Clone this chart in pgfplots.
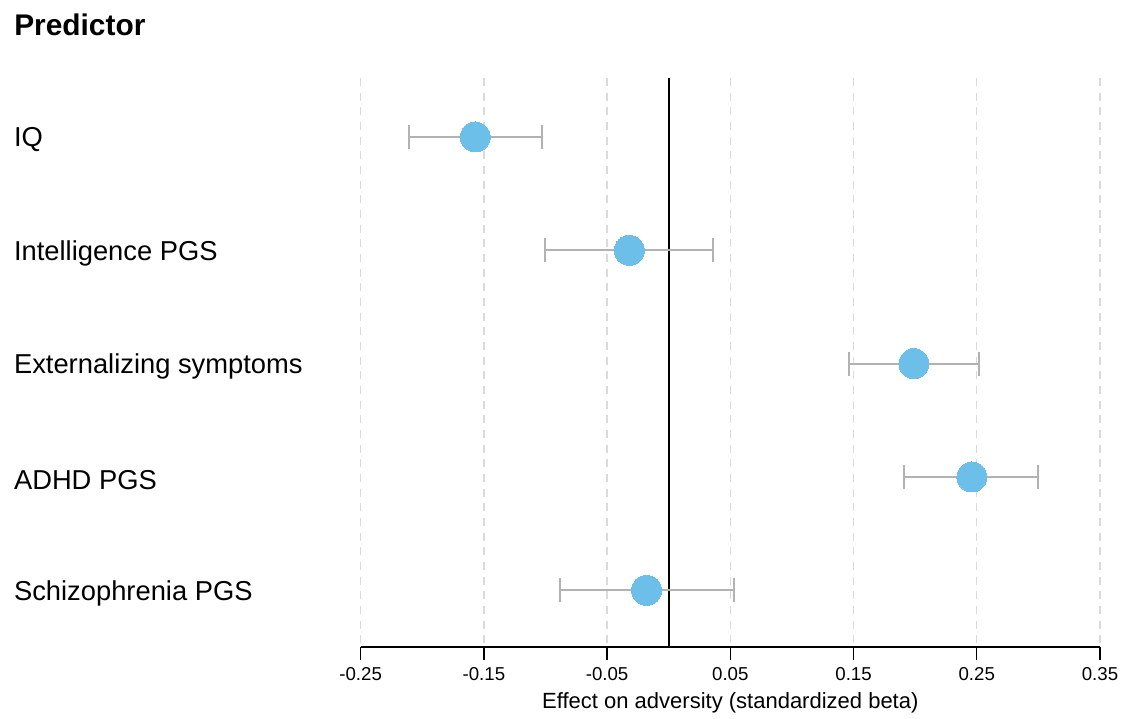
\documentclass[border=0pt]{standalone}
\usepackage{pgfplots}
\pgfplotsset{compat=1.18}
\usepackage{pgfplotstable}
\usepackage{fontspec}
\setmainfont{Liberation Sans}

\definecolor{pointblue}{RGB}{108,191,232}
\definecolor{bargray}{RGB}{178,178,178}
\definecolor{gridgray}{RGB}{218,218,218}

% Standardized effects on adversity with 95% confidence limits
\pgfplotstableread{
pos est lo hi
1 -0.157 -0.211 -0.103
2 -0.032 -0.100 0.036
3 0.199 0.146 0.252
4 0.246 0.191 0.300
5 -0.018 -0.088 0.053
}\effects

\begin{document}
\begin{tikzpicture}
\useasboundingbox (-270.5pt,-53.25pt) rectangle (575.5pt,485.25pt);
\begin{axis}[
  at={(0,0)}, anchor=south west,
  scale only axis,
  width=554.5pt, height=426.75pt,
  xmin=-0.25, xmax=0.35,
  ymin=0.48, ymax=5.5,
  y dir=reverse,
  axis x line*=bottom,
  axis y line*=left,
  x axis line style={-, line width=1pt, black},
  y axis line style={draw=none},
  xtick={-0.25,-0.15,-0.05,0.05,0.15,0.25,0.35},
  xticklabels={-0.25,-0.15,-0.05,0.05,0.15,0.25,0.35},
  xtick align=outside,
  major x tick style={line width=1pt, black},
  major tick length=10pt,
  xticklabel style={font=\fontsize{14pt}{16pt}\selectfont, yshift=-2pt},
  xmajorgrids,
  major x grid style={gridgray, line width=1pt, dash pattern=on 6pt off 5pt},
  ytick={1,2,3,4,5},
  yticklabels={IQ, Intelligence PGS, Externalizing symptoms, ADHD PGS, Schizophrenia PGS},
  ytick style={draw=none},
  yticklabel style={anchor=west, xshift=-263.5pt, yshift=-2pt, font=\fontsize{20.5pt}{23pt}\selectfont},
  xlabel={Effect on adversity (standardized beta)},
  xlabel style={font=\fontsize{16.5pt}{19pt}\selectfont, yshift=-2pt},
  clip=false,
]
% reference line at zero effect
\addplot[black, line width=1.5pt] coordinates {(0,0.48) (0,5.5)};
% point estimates with confidence intervals
\addplot[
  pointblue,
  only marks,
  mark=*,
  mark size=11.25pt,
  mark options={fill=pointblue, draw=pointblue, line width=0pt},
  error bars/.cd,
    x dir=both, x explicit,
    error bar style={bargray, line width=1.5pt},
    error mark options={rotate=90, mark size=9pt, bargray, line width=1.5pt},
] table[
  x=est, y=pos,
  x error plus expr=\thisrow{hi}-\thisrow{est},
  x error minus expr=\thisrow{est}-\thisrow{lo},
] {\effects};
\end{axis}
\node[anchor=west, inner sep=0pt, font=\bfseries\fontsize{22.4pt}{25pt}\selectfont] at (-260pt,466.5pt) {Predictor};
\end{tikzpicture}
\end{document}
